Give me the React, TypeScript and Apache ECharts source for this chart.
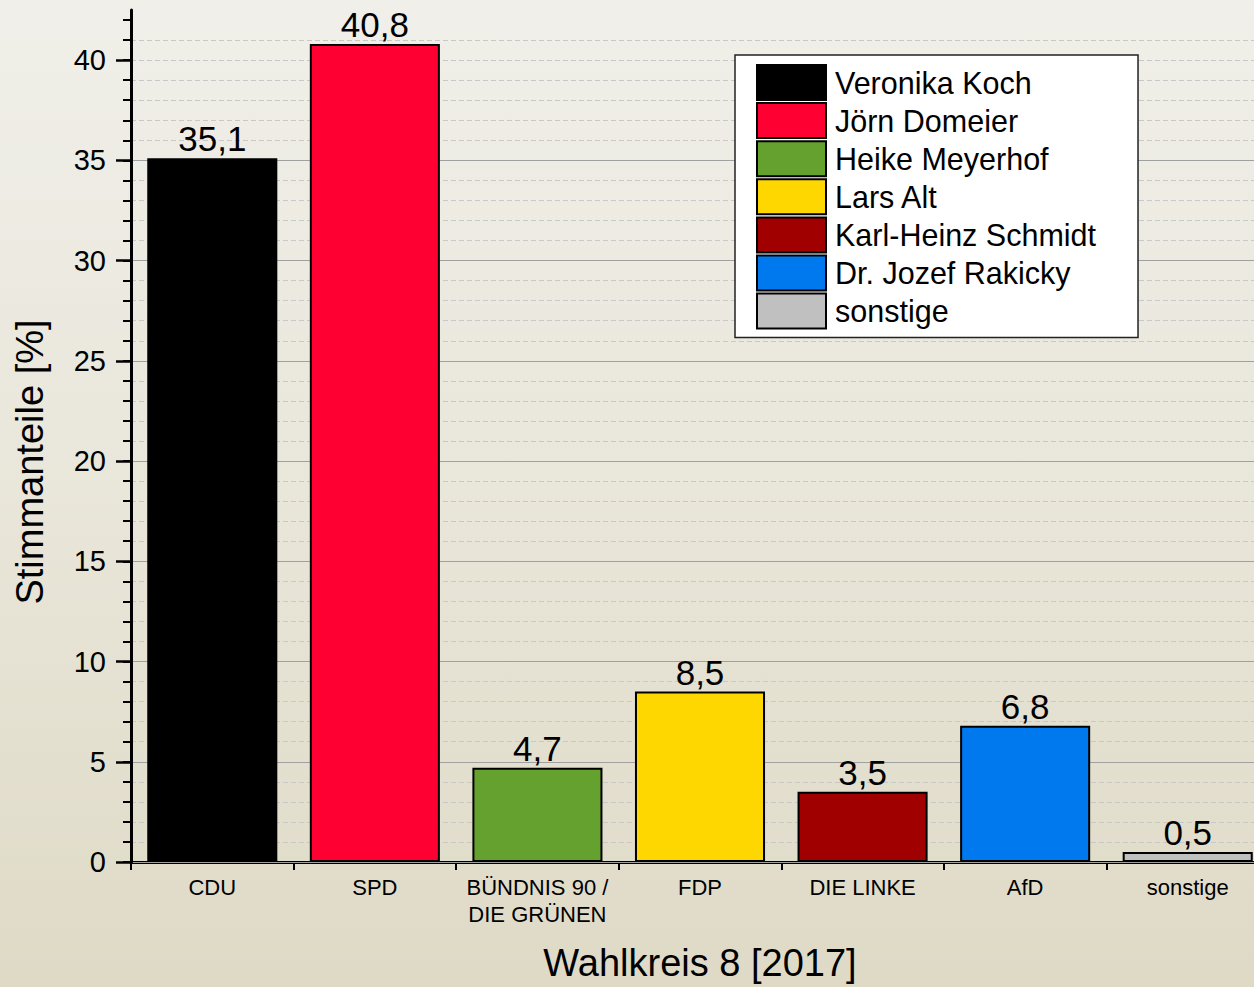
import React, { useEffect, useRef } from "react";
import * as echarts from "echarts";

const categories = ["CDU", "SPD", "BÜNDNIS 90 /\nDIE GRÜNEN", "FDP", "DIE LINKE", "AfD", "sonstige"];
const candidates = [
  "Veronika Koch",
  "Jörn Domeier",
  "Heike Meyerhof",
  "Lars Alt",
  "Karl-Heinz Schmidt",
  "Dr. Jozef Rakicky",
  "sonstige",
];
const values = [35.1, 40.8, 4.7, 8.5, 3.5, 6.8, 0.5];
const colors = ["#000000", "#FF0033", "#65A12E", "#FFD700", "#A00000", "#0078EE", "#C0C0C0"];
const majorTicks = [0, 5, 10, 15, 20, 25, 30, 35, 40];
const minorTicks = [0, 1, 2, 3, 4, 5, 6, 7, 8, 9, 10, 11, 12, 13, 14, 15, 16, 17, 18, 19, 20, 21, 22, 23, 24, 25, 26, 27, 28, 29, 30, 31, 32, 33, 34, 35, 36, 37, 38, 39, 40, 41, 42];
const yMax = 42.5;
const xTitle = "Wahlkreis 8 [2017]";
const yTitle = "Stimmanteile [%]";

const FONT = "'Liberation Sans', Arial, Helvetica, sans-serif";

export default function App() {
  const ref = useRef<HTMLDivElement>(null);
  useEffect(() => {
    if (!ref.current) return;
    const chart = echarts.init(ref.current, undefined, { renderer: "svg" });
    const series = candidates.map((name, i) => ({
      name,
      type: "bar",
      yAxisIndex: 0,
      barWidth: "80%",
      barGap: "-100%",
      itemStyle: { color: colors[i], borderColor: "#000", borderWidth: 2 },
      label: {
        show: true,
        position: "top",
        distance: 2,
        fontSize: 35,
        color: "#000",
        fontFamily: FONT,
        formatter: (p: any) => String(p.value).replace(".", ","),
      },
      data: categories.map((_, j) => (j === i ? values[i] : "-")),
    }));
    chart.setOption({
      animation: false,
      backgroundColor: "transparent",
      textStyle: { fontFamily: FONT, color: "#000" },
      grid: { left: 131, top: 10, width: 1138, height: 854, containLabel: false },
      legend: {
        left: 735,
        top: 55,
        orient: "vertical",
        icon: "rect",
        itemWidth: 69,
        itemHeight: 35,
        itemGap: 1.1,
        selectedMode: false,
        backgroundColor: "#FFFFFF",
        borderColor: "#222",
        borderWidth: 1.5,
        borderRadius: 0,
        padding: [9, 42, 8, 21],
        textStyle: { fontSize: 30.5, lineHeight: 34, color: "#000", fontFamily: FONT, padding: [0, 0, 0, 4] },
        data: candidates,
      },
      xAxis: {
        type: "category",
        data: categories,
        boundaryGap: true,
        name: xTitle,
        nameLocation: "middle",
        nameGap: 82,
        nameTextStyle: { fontSize: 38, color: "#000", fontFamily: FONT },
        axisLine: { show: true, lineStyle: { color: "#000", width: 3 } },
        axisTick: { show: true, length: 8, interval: 0, lineStyle: { color: "#000", width: 2 } },
        axisLabel: { interval: 0, fontSize: 22, lineHeight: 27, margin: 12, color: "#000", fontFamily: FONT },
        splitLine: { show: false },
      },
      yAxis: [
        {
          type: "value",
          min: 0,
          max: yMax,
          interval: 5,
          position: "left",
          z: 1,
          name: yTitle,
          nameLocation: "middle",
          nameGap: 82,
          nameTextStyle: { fontSize: 38, color: "#000", fontFamily: FONT, padding: [0, 52, 0, 0] },
          axisLine: { show: true, lineStyle: { color: "#000", width: 3 } },
          axisTick: { show: true, length: 15, customValues: majorTicks, lineStyle: { color: "#000", width: 2.5 } },
          axisLabel: {
            customValues: majorTicks,
            fontSize: 29,
            margin: 25,
            color: "#000",
            fontFamily: FONT,
          },
          splitLine: { show: true, showMaxLine: false, lineStyle: { color: "#A0A0A0", width: 1 } },
        },
        {
          type: "value",
          min: 0,
          max: yMax,
          interval: 1,
          position: "left",
          z: 0,
          axisLine: { show: false },
          axisTick: { show: true, length: 8, customValues: minorTicks, lineStyle: { color: "#000", width: 2 } },
          axisLabel: { show: false },
          splitLine: {
            show: true,
            showMaxLine: false,
            lineStyle: { color: "#C8C8C8", width: 1, type: [5, 3] },
          },
        },
      ],
      series,
    });
    return () => chart.dispose();
  }, []);
  return (
    <div
      style={{
        position: "absolute",
        left: 0,
        top: 0,
        width: 1254,
        height: 987,
        overflow: "hidden",
        background: "linear-gradient(to bottom, #F0EFE9 0%, #E9E6DA 50%, #DFDAC6 100%)",
      }}
    >
      <div ref={ref} style={{ width: 1270, height: 987 }} />
    </div>
  );
}
